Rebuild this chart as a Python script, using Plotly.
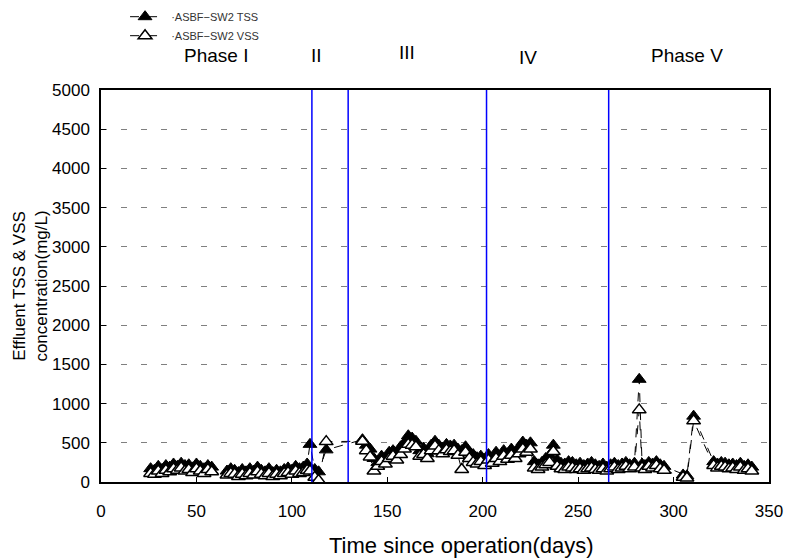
import plotly.graph_objects as go

# ---------------- data ----------------
days = [26, 28, 30, 32, 34, 36, 38, 40, 42, 44, 46, 48, 50, 52, 54, 56, 58,
        66, 68, 70, 72, 74, 76, 78, 80, 82, 84, 86, 88, 90, 92, 94, 96, 98, 100, 102, 104, 106, 108,
        109.5, 112, 114, 118,
        137, 139, 141, 143, 145, 147, 149, 151, 153, 155, 157, 159, 161, 163, 165, 167,
        169, 171, 173, 175, 177, 179, 181, 183, 185, 187, 189, 191, 193, 195, 197, 199,
        201, 203, 205, 207, 209, 211, 213, 215, 217, 219, 221, 223, 225, 227, 229, 231,
        233, 235, 237, 239, 241, 243, 245, 247, 249, 251, 253, 255, 257, 259, 261, 263, 265,
        267, 269, 271, 273, 275, 277, 279.5, 282, 283.5, 285, 287, 289, 291, 293, 295,
        305, 307, 310.5, 321, 323, 325, 327, 329, 331, 333, 335, 337, 339, 341]

tss = [170, 150, 200, 160, 210, 190, 230, 200, 240, 210, 220, 180, 230, 200, 170, 210, 190,
       140, 170, 150, 120, 160, 130, 170, 140, 190, 150, 130, 170, 120, 150, 130, 160, 180, 150, 200, 170, 190, 230,
       480, 160, 130, 410,
       540, 470, 420, 300, 250, 330, 290, 380, 400, 350, 450, 500, 590, 560, 520, 400,
       430, 360, 470, 520, 470, 430, 480, 460, 470, 420, 400, 450, 380, 350, 310, 330,
       280, 350, 300, 380, 330, 400, 360, 420, 380, 440, 510, 470, 500, 260, 220, 250,
       300, 340, 470, 280, 240, 230, 260, 250, 220, 240, 210, 230, 250, 220, 200, 230, 190,
       220, 240, 210, 230, 250, 220, 240, 1310, 230, 210, 250, 230, 260, 220, 200,
       90, 80, 840, 260, 230, 250, 240, 220, 230, 210, 240, 200, 220, 190, 230]

vss = [110, 100, 140, 110, 150, 130, 170, 150, 180, 140, 160, 120, 170, 140, 110, 160, 130,
       90, 110, 100, 70, 100, 80, 110, 90, 130, 100, 80, 110, 70, 100, 80, 110, 120, 100, 140, 110, 120, 150,
       140, 60, 20, 515,
       520, 400, 320, 140, 200, 260, 230, 300, 330, 280, 350, 420, 480, 470, 450, 330,
       350, 300, 400, 460, 400, 360, 410, 390, 400, 340, 160, 380, 300, 250, 230, 260,
       210, 280, 240, 300, 260, 330, 290, 340, 300, 360, 420, 380, 420, 180, 160, 190,
       220, 250, 390, 200, 170, 160, 190, 180, 160, 170, 150, 170, 180, 160, 150, 170, 140,
       170, 190, 160, 180, 200, 170, 190, 920, 180, 160, 200, 180, 210, 170, 150,
       60, 50, 780, 210, 180, 200, 190, 170, 180, 160, 190, 150, 170, 140, 180]

phase_bounds = [110.5, 129.5, 202, 266]
phase_labels = ["Phase I", "II", "III", "IV", "Phase V"]
phase_label_x = [60, 113, 160.5, 223.5, 307]
phase_label_y = [1.088, 1.088, 1.096, 1.082, 1.088]

x_ticks = [0, 50, 100, 150, 200, 250, 300, 350]
y_ticks = [0, 500, 1000, 1500, 2000, 2500, 3000, 3500, 4000, 4500, 5000]

FONT = "Liberation Sans, Arial, sans-serif"

fig = go.Figure()
fig.add_trace(go.Scatter(
    x=days, y=tss, mode="lines+markers", name="\u00a0\u00a0\u00b7ASBF\u2212SW2 TSS",
    line=dict(color="black", width=1, dash="dash"),
    marker=dict(symbol="triangle-up", size=12, color="black",
                line=dict(color="black", width=1)),
))
fig.add_trace(go.Scatter(
    x=days, y=vss, mode="lines+markers", name="\u00a0\u00a0\u00b7ASBF\u2212SW2 VSS",
    line=dict(color="black", width=1, dash="dash"),
    marker=dict(symbol="triangle-up", size=12, color="white",
                line=dict(color="black", width=1.5)),
))

for b in phase_bounds:
    fig.add_shape(type="line", xref="x", yref="paper", x0=b, x1=b, y0=0, y1=1,
                  line=dict(color="#0000FF", width=1.5))

for lab, lx, ly in zip(phase_labels, phase_label_x, phase_label_y):
    fig.add_annotation(x=lx, y=ly, xref="x", yref="paper", text=lab,
                       showarrow=False, yanchor="middle", xanchor="center",
                       font=dict(size=19, color="black", family=FONT))

# x-axis title (placed as annotation to match the original's offset position)
fig.add_annotation(x=0.54, y=-0.161, xref="paper", yref="paper",
                   text="Time since operation(days)", showarrow=False,
                   yanchor="middle", xanchor="center",
                   font=dict(size=22, color="black", family=FONT))

fig.update_layout(
    width=789, height=560,
    margin=dict(l=101, r=20, t=90, b=78, autoexpand=False),
    paper_bgcolor="white", plot_bgcolor="white",
    font=dict(family=FONT, color="black"),
    showlegend=True,
    legend=dict(x=0.036, y=1.224, xanchor="left", yanchor="top",
                bgcolor="rgba(0,0,0,0)", font=dict(size=11, color="#333333"),
                tracegroupgap=0, itemwidth=30),
)
fig.update_xaxes(
    range=[0, 350], tickvals=x_ticks, ticktext=[str(v) for v in x_ticks],
    showline=True, mirror=True, linecolor="black", linewidth=1.5,
    ticks="inside", ticklen=5, tickcolor="black", showgrid=False, zeroline=False,
    tickfont=dict(size=17), ticklabelstandoff=13,
)
fig.update_yaxes(
    range=[0, 5000], tickvals=y_ticks, ticktext=[str(v) for v in y_ticks],
    showline=True, mirror=True, linecolor="black", linewidth=1.5,
    ticks="inside", ticklen=5, tickcolor="black",
    showgrid=True, gridcolor="#808080", gridwidth=1, griddash="6px,14px",
    zeroline=False, tickfont=dict(size=17), ticklabelstandoff=6,
    title=dict(text="Effluent TSS & VSS<br>concentration(mg/L)", font=dict(size=17), standoff=0),
)

fig.write_html("out.html")
